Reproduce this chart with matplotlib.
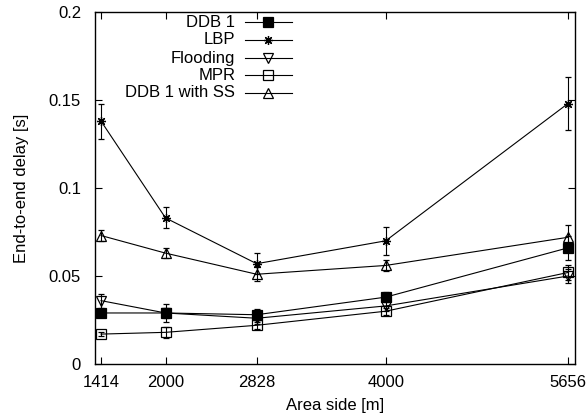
import matplotlib.pyplot as plt
import numpy as np

plt.rcParams['font.family'] = ['Liberation Sans', 'DejaVu Sans']

# ---------------------------
# DATA
# ---------------------------
area = [1414, 2000, 2828, 4000, 5656]

ddb1 = [0.029, 0.029, 0.028, 0.038, 0.066]
ddb1_err = [0.002, 0.005, 0.003, 0.003, 0.007]

lbp = [0.138, 0.083, 0.057, 0.070, 0.148]
lbp_err = [0.010, 0.006, 0.006, 0.008, 0.015]

flooding = [0.036, 0.029, 0.026, 0.033, 0.050]
flooding_err = [0.004, 0.003, 0.003, 0.003, 0.004]

mpr = [0.017, 0.018, 0.022, 0.030, 0.052]
mpr_err = [0.001, 0.003, 0.002, 0.002, 0.004]

ddb1_ss = [0.073, 0.063, 0.051, 0.056, 0.072]
ddb1_ss_err = [0.003, 0.003, 0.004, 0.003, 0.007]

series = [
    ("DDB 1", ddb1, ddb1_err, "s", "black"),
    ("LBP", lbp, lbp_err, (8, 2, 0), "black"),
    ("Flooding", flooding, flooding_err, "v", "none"),
    ("MPR", mpr, mpr_err, "s", "none"),
    ("DDB 1 with SS", ddb1_ss, ddb1_ss_err, "^", "none"),
]

# ---------------------------
# PLOT
# ---------------------------
fig = plt.figure(figsize=(5.87, 4.2), dpi=100)
ax = fig.add_axes([0.1618, 0.1333, 0.8178, 0.8381])

leg_y = [0.9716, 0.9205, 0.869, 0.821, 0.770]

for (label, vals, err, marker, fc), ly in zip(series, leg_y):
    ax.errorbar(area, vals, yerr=err, color="black", lw=0.8,
                elinewidth=0.8, capsize=2.5, capthick=0.8,
                marker=marker, markersize=6.5, markerfacecolor=fc,
                markeredgecolor="black", markeredgewidth=0.9)
    # legend entry (gnuplot style: text right-aligned, sample on the right)
    ax.text(0.292, ly, label, transform=ax.transAxes, ha="right",
            va="center", fontsize=12)
    ax.plot([0.3125, 0.4104], [ly, ly], transform=ax.transAxes,
            color="black", lw=0.8)
    ax.plot([0.361], [ly], transform=ax.transAxes, marker=marker,
            markersize=6.5, markerfacecolor=fc, markeredgecolor="black",
            markeredgewidth=0.9, color="black")

# ---------------------------
# AXES
# ---------------------------
ax.set_xlim(1359, 5720)
ax.set_ylim(0, 0.2)
ax.set_xticks(area)
ax.set_xticklabels([str(a) for a in area])
ax.set_yticks([0, 0.05, 0.1, 0.15, 0.2])
ax.set_yticklabels(["0", "0.05", "0.1", "0.15", "0.2"])
ax.tick_params(direction="in", length=5, width=0.8, top=True, right=True,
               labelsize=12)
ax.tick_params(axis="x", pad=8)
ax.tick_params(axis="y", pad=10)
for s in ax.spines.values():
    s.set_linewidth(1.0)

ax.set_xlabel("Area side [m]", fontsize=12, labelpad=6)
ax.set_ylabel("End-to-end delay [s]", fontsize=12, labelpad=14)

fig.savefig("out.png", dpi=100)
